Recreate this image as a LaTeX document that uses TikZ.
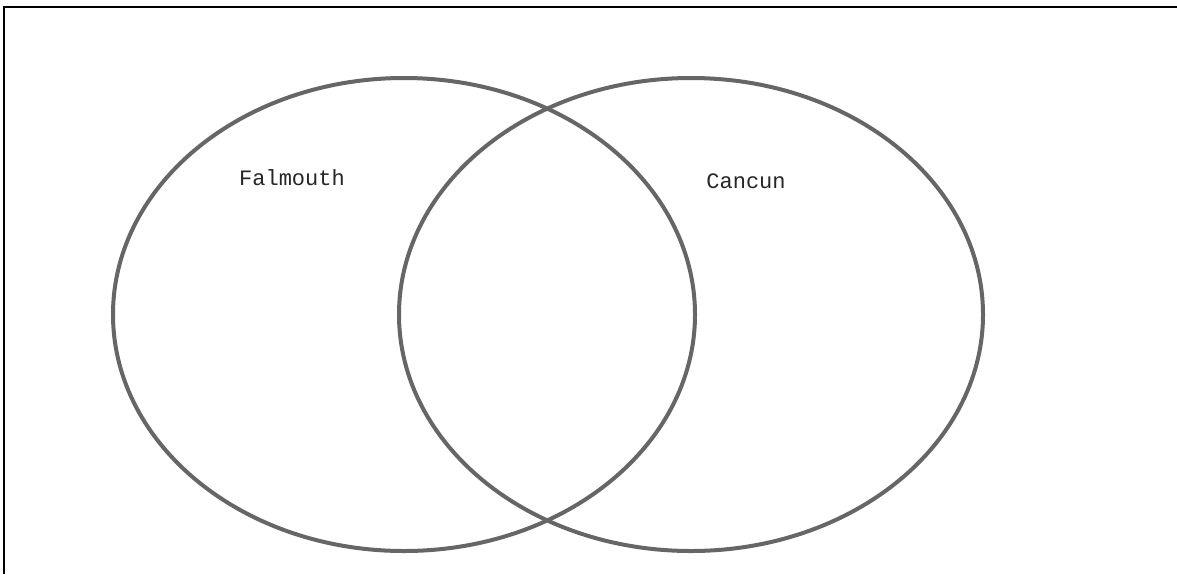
\documentclass[tikz,border=0pt]{standalone}
\usepackage{fontspec}
\setmonofont{Liberation Mono}
\usetikzlibrary{shapes.geometric}
\begin{document}
\begin{tikzpicture}[x=1pt,y=-1pt,
  setcircle/.style={draw=black!60, line width=4pt},
  setlabel/.style={font=\ttfamily\fontsize{22pt}{26pt}\selectfont, text=black!85, anchor=base, inner sep=0pt}]
\useasboundingbox (0,0) rectangle (1177,574);
\fill[white] (0,0) rectangle (1177,574);
\draw[black, line width=2.2pt] (4,574) -- (4,7) -- (1177,7);
\node[setcircle, ellipse, minimum width=582pt, minimum height=473pt, inner sep=0pt] (falmouth) at (404,314.5) {};
\node[setcircle, ellipse, minimum width=584pt, minimum height=473pt, inner sep=0pt] (cancun) at (691,314.5) {};
\node[setlabel] (lf) at (292,185) {Falmouth};
\node[setlabel] (lc) at (746,188) {Cancun};
\end{tikzpicture}
\end{document}
